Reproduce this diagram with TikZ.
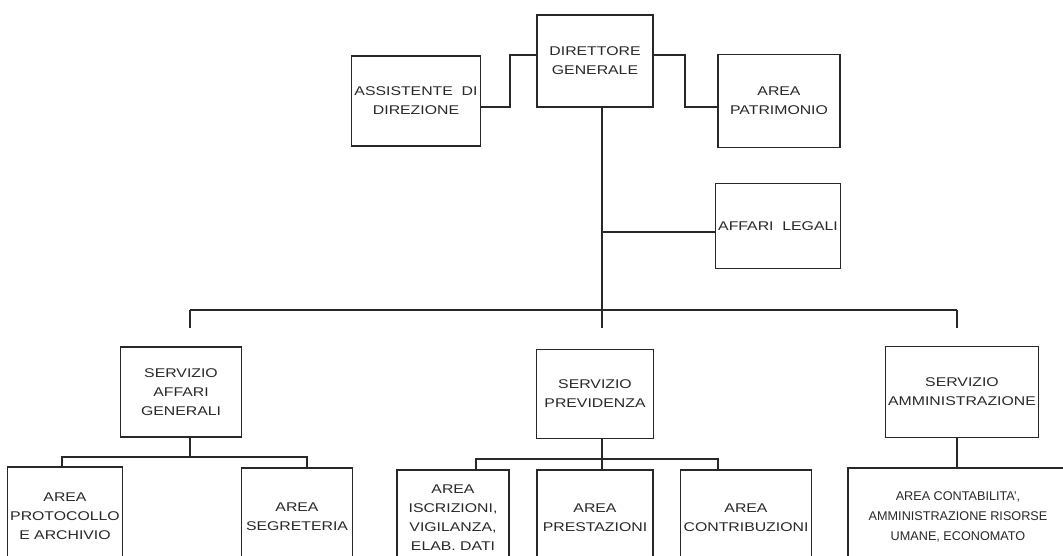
\documentclass[tikz,border=0pt]{standalone}
\usepackage{fontspec}
\setmainfont{Liberation Sans}
\newfontfamily\scanfont[FakeStretch=1.25]{Liberation Sans}
\usetikzlibrary{positioning,calc}
\definecolor{inkgray}{RGB}{40,40,40}

\begin{document}
\begin{tikzpicture}[x=0.025cm,y=-0.025cm,
  unitbox/.style={draw=inkgray,line width=0.9pt,align=center,inner sep=2pt,
    font=\scanfont\fontsize{9}{13.5}\selectfont,text=inkgray},
  link/.style={draw=inkgray,line width=0.9pt}]

\useasboundingbox (0,0) rectangle (1063,555);
\clip (0,0) rectangle (1063,555);

% Top level
\node[unitbox,minimum width=116*0.025cm,minimum height=92*0.025cm] (dg) at (595,61) {DIRETTORE\\GENERALE};
\node[unitbox,minimum width=122*0.025cm,minimum height=90*0.025cm] (assist) at (416,101) {ASSISTENTE\ \ DI\\DIREZIONE};
\node[unitbox,minimum width=122*0.025cm,minimum height=93*0.025cm] (patr) at (779,101) {AREA\\PATRIMONIO};
\node[unitbox,minimum width=123*0.025cm,minimum height=85*0.025cm] (legali) at (778,226) {AFFARI\ \ LEGALI};

% Services
\node[unitbox,minimum width=121*0.025cm,minimum height=90*0.025cm] (sag) at (181,392) {SERVIZIO\\AFFARI\\GENERALI};
\node[unitbox,minimum width=117*0.025cm,minimum height=89*0.025cm] (sprev) at (595,394) {SERVIZIO\\PREVIDENZA};
\node[unitbox,minimum width=147*0.025cm,minimum height=91*0.025cm] (samm) at (962,392) {SERVIZIO\\AMMINISTRAZIONE};

% Areas (cut by the bottom edge)
\node[unitbox,minimum width=105*0.025cm,minimum height=98*0.025cm] (protocollo) at (65,516) {AREA\\PROTOCOLLO\\E ARCHIVIO};
\node[unitbox,minimum width=111*0.025cm,minimum height=98*0.025cm] (segreteria) at (297,517) {AREA\\SEGRETERIA};
\node[unitbox,minimum width=112*0.025cm,minimum height=96*0.025cm] (iscrizioni) at (453,518) {AREA\\ISCRIZIONI,\\VIGILANZA,\\ELAB. DATI};
\node[unitbox,minimum width=116*0.025cm,minimum height=96*0.025cm] (prestazioni) at (595,518) {AREA\\PRESTAZIONI};
\node[unitbox,minimum width=123*0.025cm,minimum height=96*0.025cm] (contribuzioni) at (746,518) {AREA\\CONTRIBUZIONI};
\node[unitbox,font=\rmfamily\fontsize{9}{14}\selectfont,minimum width=220*0.025cm,minimum height=98*0.025cm] (contab) at (958,517) {AREA CONTABILITA',\\AMMINISTRAZIONE RISORSE\\UMANE, ECONOMATO};

% Bus coordinates
\coordinate (trunk) at (602,328);
\coordinate (busl) at (190,310);
\coordinate (busr) at (957,310);
\coordinate (sagb) at (190,457);
\coordinate (sagl) at (62,457);
\coordinate (sagr) at (307,457);
\coordinate (prevl) at (476,459);
\coordinate (prevr) at (718,459);
\coordinate (prevm) at (602,459);
\coordinate (ammc) at (957,452);

% Staff links
\draw[link] ($(assist.east)+(0,6)$) -| (510,80) |- ($(dg.west)+(0,-6)$);
\draw[link] ($(dg.east)+(0,-6)$) -| (685,80) |- ($(patr.west)+(0,6)$);
\draw[link] (dg.south -| trunk) -- (trunk);
\draw[link] ($(legali.west)+(0,6)$) -- ($(legali.west -| trunk)+(0,6)$);

% Main bus
\draw[link] (busl) -- (busr);
\draw[link,shorten >=13pt] (busl) -- (busl |- sag.north);
\draw[link,shorten >=13pt] (busr) -- (busr |- samm.north);

% Affari generali
\draw[link] (sagb |- sag.south) -- (sagb);
\draw[link] (protocollo.north -| sagl) |- (sagr) -- (segreteria.north -| sagr);

% Previdenza
\draw[link] (iscrizioni.north -| prevl) |- (prevr) -- (contribuzioni.north -| prevr);
\draw[link] (sprev.south -| prevm) -- (prestazioni.north -| prevm);

% Amministrazione
\draw[link] (samm.south -| ammc) -- (contab.north -| ammc);

\end{tikzpicture}
\end{document}
